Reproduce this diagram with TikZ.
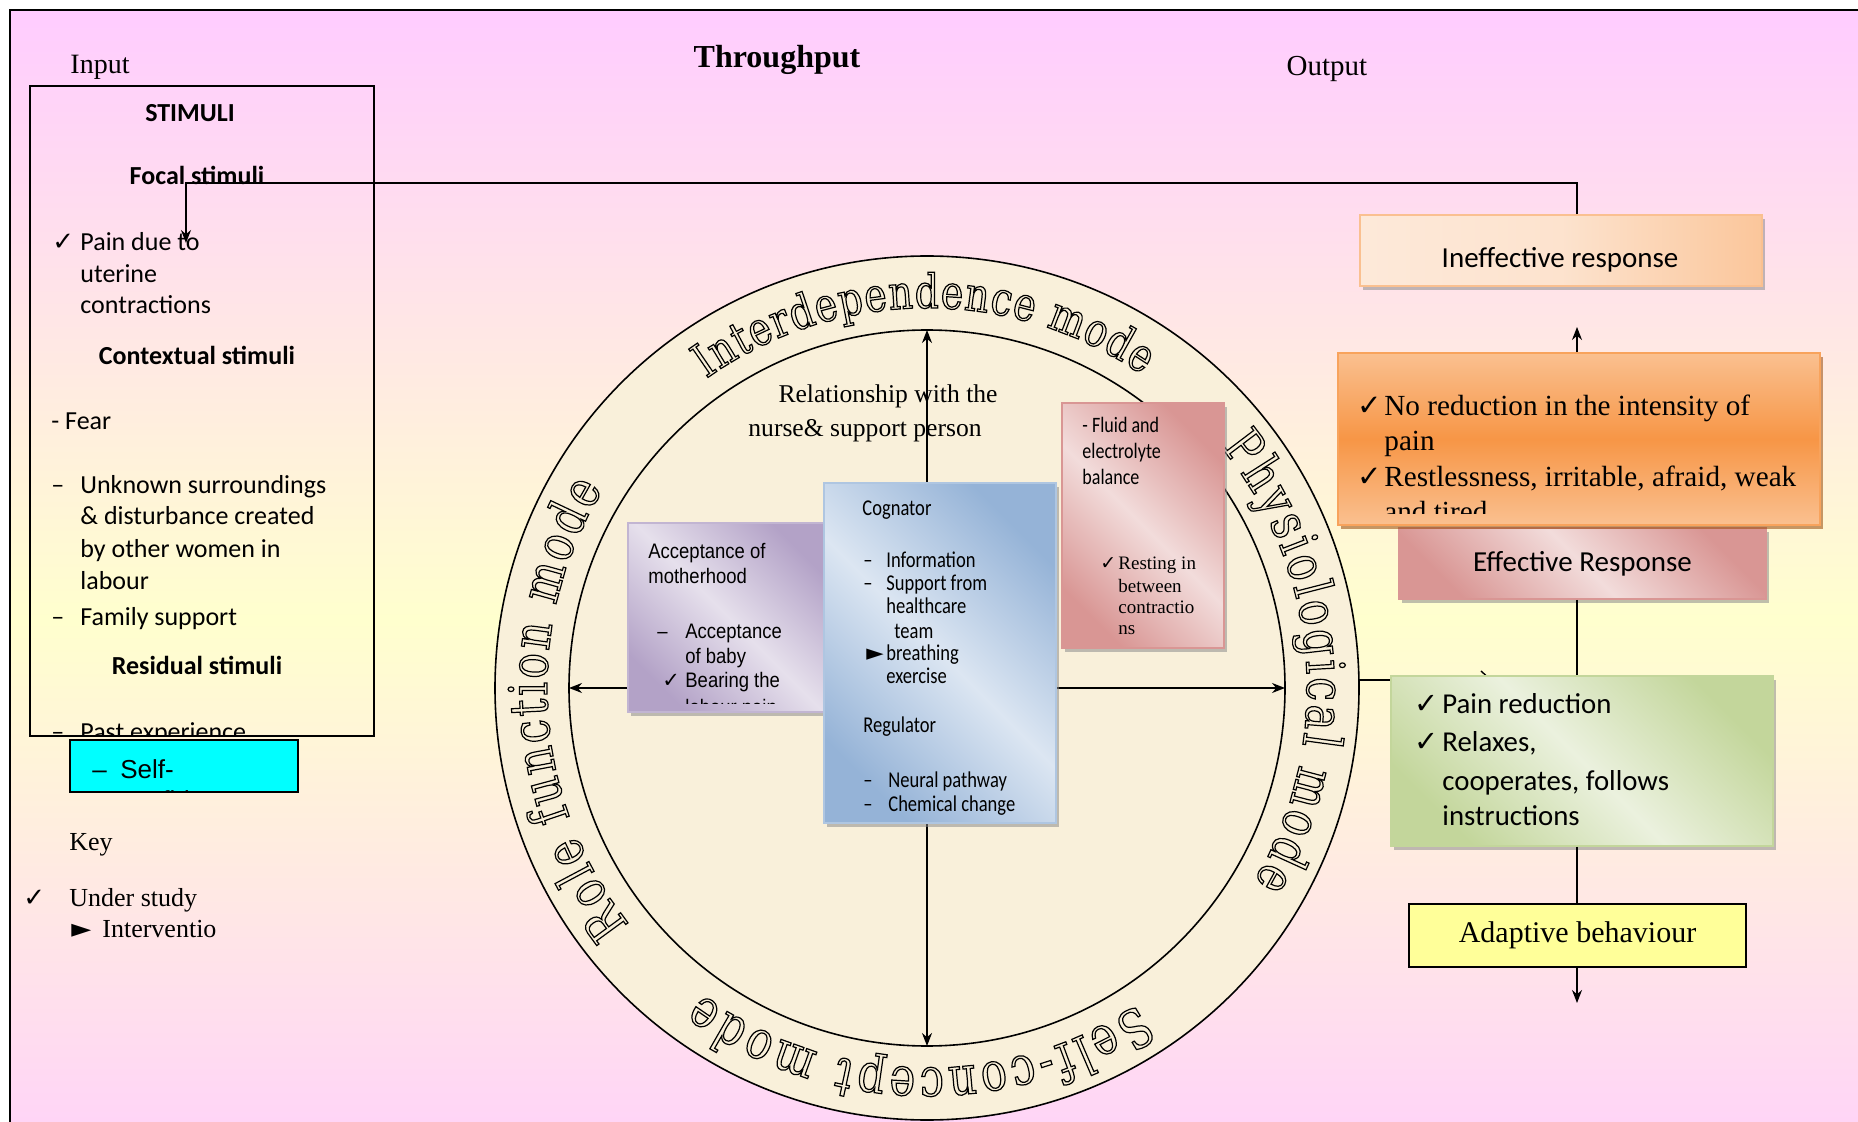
\documentclass[tikz,border=0pt]{standalone}
\usepackage{fontspec}
\setmainfont{Liberation Serif}
\newfontfamily\calfont{Carlito}
\newfontfamily\calnarrow{Carlito}[FakeStretch=0.82]
\newfontfamily\arialfont{Liberation Sans}
\newfontfamily\arialnarrow{Liberation Sans}[FakeStretch=0.88]
\newfontfamily\symfont{DejaVu Sans}
\newfontfamily\ringfont{DejaVu Serif}[FakeStretch=0.8]
\usetikzlibrary{arrows.meta,decorations.text,shadows}

\definecolor{bgpink}{RGB}{255,204,255}
\definecolor{bgyellow}{RGB}{255,255,206}
\definecolor{parch}{RGB}{249,240,218}
\definecolor{aqua}{RGB}{0,255,255}
\definecolor{blueL}{RGB}{220,230,242}
\definecolor{blueD}{RGB}{149,179,215}
\definecolor{purpL}{RGB}{230,224,236}
\definecolor{purpD}{RGB}{179,162,199}
\definecolor{roseL}{RGB}{242,220,219}
\definecolor{roseD}{RGB}{217,150,148}
\definecolor{orngL}{RGB}{253,233,217}
\definecolor{orngM}{RGB}{250,192,144}
\definecolor{orngD}{RGB}{247,150,70}
\definecolor{orngS}{RGB}{152,72,7}
\definecolor{grnL}{RGB}{235,241,222}
\definecolor{grnD}{RGB}{195,214,155}
\definecolor{keyyellow}{RGB}{255,255,153}

\newcommand\fsz[2]{\fontsize{#1}{#2}\selectfont}
\newcommand\chk{{\symfont ✓}}
\newcommand\tri{{\symfont ►}}
% hollow text round the ring, #1 = middle angle, #2 = size
\newcommand\ringtext[3]{%
  \begin{scope}
    \path[decorate, decoration={text along path, text align=fit to path,
      text={|\ringfont\fsz{#2}{#2}\color{black}\special{pdf:literal direct 1 Tr 0.6 w}|#3}}]
      (ctr) ++({#1+35}:380) arc[start angle={#1+35}, end angle={#1-35}, radius=380];
  \end{scope}
}

\begin{document}
\begin{tikzpicture}[x=0.5pt, y=0.5pt,
  txt/.style={anchor=base west, inner sep=0pt},
  mid/.style={anchor=base, inner sep=0pt},
  line box/.style={rectangle, draw=black, line width=0.7pt, inner sep=0pt},
  office box/.style={rectangle, inner sep=0pt, line width=0.9pt,
    drop shadow={shadow xshift=1.6pt, shadow yshift=-1.8pt, fill=#1, opacity=0.55}},
  office box/.default={black!45},
  diag shade/.style 2 args={top color=#1, bottom color=#1, middle color=#2, shading angle=-45},
  conn/.style={line width=0.7pt},
  arr/.style={conn, -{Stealth[length=6.5pt, width=5pt]}}]
  \useasboundingbox (0,0) rectangle (1858,-1122);
  % page
  \shade[top color=bgpink, bottom color=bgpink, middle color=bgyellow] (10,-10) rectangle (1880,-1230);
  \draw[line width=0.8pt] (10,-1230) -- (10,-10) -- (1880,-10);

  \node[mid, font=\fsz{14}{16}] (input) at (100,-74) {Input};
  \node[mid, font=\bfseries\fsz{16}{18}] (through) at (777,-68) {Throughput};
  \node[mid, font=\fsz{14.5}{16}] (output) at (1327,-76) {Output};

  % adaptive modes
  \coordinate (ctr) at (927,-688);
  \filldraw[fill=parch, line width=0.8pt] (ctr) circle[radius=432];
  \draw[line width=0.8pt] (ctr) circle[radius=358];
  \ringtext{90.5}{23.5}{Interdependence mode}
  \ringtext{4.3}{26.5}{Physiological mode}
  \ringtext{-91.3}{27}{Self-concept mode}
  \ringtext{183.5}{26.5}{Role function mode}

  \foreach \ang/\nm in {90/itop, 0/iright, -90/ibot, 180/ileft} {
    \path (ctr) ++(\ang:358) coordinate (\nm);
    \draw[arr] (ctr) -- (\nm);
  }
  \foreach \px/\py/\lbl [count=\i] in {888/402.5/Relationship with the, 865/437/nurse\& support person}
    \node[mid, font=\fsz{12.8}{15}] (rel\i) at (\px,-\py) {\lbl};

  % role function
  \node[office box, diag shade={purpD}{purpL}, draw=purpD!80, minimum width=101pt, minimum height=94.5pt] (accept) at (729,-617.5) {};
  \begin{scope}
    \clip (accept.north west) rectangle ([yshift=4.5pt]accept.south east);
    \foreach \px/\py/\lbl [count=\i] in {648/559/Acceptance of, 648/584/motherhood,
        657/639/{\makebox[14pt][l]{–}Acceptance}, 685/663/of baby,
        662/688/{\makebox[11.5pt][l]{\chk}Bearing the}, 685/714/labour pain}
      \node[txt, font=\arialnarrow\fsz{10.5}{12}] (acc\i) at (\px,-\py) {\lbl};
  \end{scope}

  % cognator / regulator
  \node[office box, diag shade={blueD}{blueL}, draw=blueD!75!white, minimum width=116pt, minimum height=170pt] (cog) at (940,-653) {};
  \foreach \px/\py/\lbl [count=\i] in {862/516/Cognator, 863/568/{\makebox[11.5pt][l]{–}Information},
      863/591/{\makebox[11.5pt][l]{–}Support from}, 886/614/healthcare, 894/639/team,
      866/661/{\makebox[10pt][l]{\tri}breathing}, 886/683/exercise, 863/733/Regulator,
      863/787/{\makebox[12.5pt][l]{–}Neural pathway}, 863/811/{\makebox[12.5pt][l]{–}Chemical change}}
    \node[txt, font=\calnarrow\fsz{11.3}{13}] (cog\i) at (\px,-\py) {\lbl};

  % physiological
  \node[office box, diag shade={roseD}{roseL}, draw=roseD, minimum width=81pt, minimum height=122.5pt] (fluid) at (1143,-525.5) {};
  \foreach \px/\py/\lbl [count=\i] in {1082/433/- Fluid and, 1082/459/electrolyte, 1082/485/balance}
    \node[txt, font=\calnarrow\fsz{11}{13}] (fl\i) at (\px,-\py) {\lbl};
  \foreach \px/\py/\lbl [count=\i] in {1100/570/{\makebox[9pt][l]{\chk}Resting in}, 1118/593/between,
      1118/614/contractio, 1118/635/ns}
    \node[txt, font=\fsz{9.5}{11}] (rest\i) at (\px,-\py) {\lbl};

  % stimuli
  \node[line box, minimum width=172pt, minimum height=325pt] (stim) at (202,-411) {};
  \begin{scope}
    \clip (stim.north west) rectangle (stim.south east);
    \foreach \px/\py/\lbl [count=\i] in {190/121.5/STIMULI, 197/185/Focal stimuli,
        197/365/Contextual stimuli, 197/675/Residual stimuli}
      \node[mid, font=\calfont\bfseries\fsz{13}{16}] (sthead\i) at (\px,-\py) {\lbl};
    \foreach \px/\py/\lbl [count=\i] in {52/251/{\makebox[14pt][l]{\chk}Pain due to}, 80/283/uterine,
        80/314/contractions, 51/430/- Fear, 51/494/{\makebox[14.5pt][l]{–}Unknown surroundings},
        80/525/\& disturbance created, 80/558/by other women in, 80/590/labour,
        51/625/{\makebox[14.5pt][l]{–}Family support}, 51/740/{\makebox[14.5pt][l]{–}Past experience}}
      \node[txt, font=\calfont\fsz{13}{16}] (stline\i) at (\px,-\py) {\lbl};
  \end{scope}
  \node[line box, fill=aqua, minimum width=114pt, minimum height=26pt] (selfbox) at (184,-766) {};
  \begin{scope}
    \clip (selfbox.north west) rectangle (selfbox.south east);
    \foreach \px/\py/\lbl [count=\i] in {92/778/{\makebox[14pt][l]{–}Self-}, 120/809/confidence}
      \node[txt, font=\arialfont\fsz{13}{15}] (self\i) at (\px,-\py) {\lbl};
  \end{scope}

  % key
  \foreach \px/\py/\lbl [count=\i] in {69/850/Key, 23/906/\chk, 69/906/Under study,
      71/937/{\makebox[15.5pt][l]{\tri}Interventio}}
    \node[txt, font=\fsz{13}{15}] (key\i) at (\px,-\py) {\lbl};

  % output side
  \coordinate (vx) at (1577,0);
  \coordinate (oright) at (1359,-680);
  \coordinate (gtip) at (1492,-680);
  \draw[conn, -{Straight Barb[length=5pt, width=9pt]}] (oright) -- (gtip);
  \node[office box, left color=orngL, right color=orngM!85!orngL, middle color=orngL!85!orngM, draw=orngM,
    minimum width=201pt, minimum height=35.5pt] (ineff) at (1561,-250.5) {};
  \node[font=\calfont\fsz{14.5}{16}, inner sep=0pt] (inefftxt) at (1560,-260) {Ineffective response};
  \node[office box, diag shade={roseD}{roseL}, draw=roseD, minimum width=183.5pt, minimum height=35.5pt,
    font=\calfont\fsz{14.5}{16}] (eff) at (1582.5,-563.5) {Effective Response};
  \node[office box={orngS}, top color=orngM, bottom color=orngM, middle color=orngD, draw=orngD!70!orngM,
    minimum width=241pt, minimum height=86pt] (noreduce) at (1579,-439) {};
  \begin{scope}
    \clip (noreduce.north west) rectangle ([yshift=6pt]noreduce.south east);
    \foreach \px/\py/\lbl [count=\i] in {1357/416/{\makebox[13.5pt][l]{\chk}No reduction in the intensity of},
        1384/451/pain, 1357/487/{\makebox[13.5pt][l]{\chk}Restlessness, irritable, afraid, weak},
        1384/522/and tired}
      \node[txt, font=\fsz{14.6}{17}] (nored\i) at (\px,-\py) {\lbl};
  \end{scope}
  \node[office box, diag shade={grnD}{grnL}, draw=grnD, minimum width=191pt, minimum height=85pt] (relax) at (1582,-761) {};
  \foreach \px/\py/\lbl [count=\i] in {1414/713/{\makebox[14pt][l]{\chk}Pain reduction},
      1414/751/{\makebox[14pt][l]{\chk}Relaxes,}, 1442/790/{cooperates, follows}, 1442/825/instructions}
    \node[txt, font=\calfont\fsz{14.4}{17}] (relax\i) at (\px,-\py) {\lbl};
  \node[line box, fill=keyyellow, minimum width=168.5pt, minimum height=31.5pt, font=\fsz{15}{17}] (adapt) at (1577.5,-935.5) {Adaptive behaviour};

  \coordinate (ineffend) at (1577,-327);
  \coordinate (adaptend) at (1577,-1003);
  \coordinate (fturn) at (186,-183);
  \coordinate (ftip) at (186,-243);
  \draw[arr] (noreduce.north -| vx) -- (ineffend);
  \draw[conn] (eff.south -| vx) -- (relax.north -| vx);
  \draw[conn] (relax.south -| vx) -- (adapt.north -| vx);
  \draw[arr] (adapt.south -| vx) -- (adaptend);
  \draw[arr] (ineff.north -| vx) |- (fturn) -- (ftip);
\end{tikzpicture}
\end{document}
